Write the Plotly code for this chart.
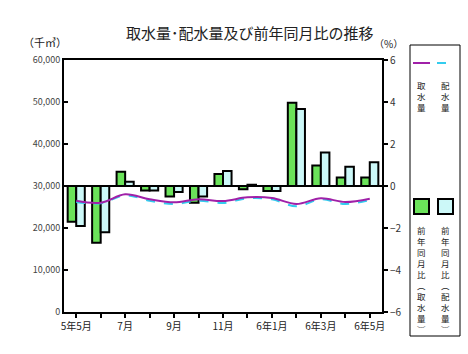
import plotly.graph_objects as go

months = ["5年5月", "6月", "7月", "8月", "9月", "10月", "11月", "12月", "6年1月", "2月", "3月", "4月", "6年5月"]
tick_labels = ["5年5月", "", "7月", "", "9月", "", "11月", "", "6年1月", "", "6年3月", "", "6年5月"]
intake = [26500, 26030, 28020, 26830, 26110, 26830, 26430, 27300, 27140, 25710, 27070, 26190, 26980]
distribution = [26190, 25870, 27780, 26500, 25710, 26500, 25950, 27070, 26830, 25160, 26830, 25710, 26670]
yoy_intake = [-1.7, -2.7, 0.68, -0.22, -0.5, -0.8, 0.57, -0.15, -0.24, 3.97, 0.98, 0.41, 0.41]
yoy_dist = [-1.9, -2.2, 0.2, -0.22, -0.29, -0.5, 0.71, 0.06, -0.24, 3.67, 1.6, 0.92, 1.13]

FONT = "Noto Sans CJK JP"
L, R, T, B = 64, 382, 60, 312
W, H = 468, 354

def px(x):
    return (x - L) / (R - L)

def py(y):
    return (B - y) / (B - T)

x_idx = list(range(len(months)))

fig = go.Figure()
fig.add_trace(go.Bar(x=x_idx, y=yoy_intake, yaxis="y", marker=dict(color="#6be35a", line=dict(color="black", width=2)), showlegend=False))
fig.add_trace(go.Bar(x=x_idx, y=yoy_dist, yaxis="y", marker=dict(color="#ccf8f8", line=dict(color="black", width=2)), showlegend=False))
fig.add_trace(go.Scatter(x=x_idx, y=distribution, yaxis="y2", mode="lines", line=dict(color="#33ccee", width=2, dash="dash", shape="spline"), showlegend=False))
fig.add_trace(go.Scatter(x=x_idx, y=intake, yaxis="y2", mode="lines", line=dict(color="#a020a8", width=2, shape="spline"), showlegend=False))

fig.update_layout(
    width=W, height=H,
    margin=dict(l=L, r=W - R, t=T, b=H - B),
    paper_bgcolor="white", plot_bgcolor="white",
    font=dict(family=FONT, size=10, color="#333"),
    barmode="group", bargap=0.3, bargroupgap=0,
    xaxis=dict(range=[-0.5, len(months) - 0.5], tickvals=x_idx, ticktext=tick_labels,
               showline=True, linecolor="black", linewidth=2, mirror=True,
               ticks="outside", ticklen=4, tickwidth=2, tickcolor="black",
               showgrid=False, zeroline=False, tickfont=dict(size=10, color="#222")),
    yaxis=dict(side="right", range=[-6, 6], dtick=2, showgrid=False,
               zeroline=True, zerolinecolor="black", zerolinewidth=2,
               showline=True, linecolor="black", linewidth=2,
               ticks="outside", ticklen=4, tickwidth=2, tickcolor="black",
               tickfont=dict(size=10, color="#333")),
    yaxis2=dict(side="left", overlaying="y", range=[0, 60000], dtick=10000, tickformat=",",
                showgrid=False, zeroline=False, showline=True, linecolor="black", linewidth=2,
                ticks="inside", ticklen=4, tickwidth=2, tickcolor="black",
                tickfont=dict(size=9, color="#444")),
)

anns = []

def label(text, x, y, size, color="#222", yanchor="middle"):
    anns.append(dict(text=text, x=px(x), y=py(y), xref="paper", yref="paper",
                     xanchor="center", yanchor=yanchor,
                     showarrow=False, font=dict(size=size, color=color, family=FONT)))

label("取水量･配水量及び前年同月比の推移", 250, 33, 15)
label("（千㎥）", 45, 42, 11)
label("（%）", 388, 43, 10)

shapes = []
# legend box
shapes.append(dict(type="rect", xref="paper", yref="paper", x0=px(410), x1=px(460), y0=py(336), y1=py(45),
                   line=dict(color="black", width=1), fillcolor="white", layer="below"))
shapes.append(dict(type="line", xref="paper", yref="paper", x0=px(413), x1=px(430), y0=py(63), y1=py(63),
                   line=dict(color="#a020a8", width=2)))
shapes.append(dict(type="line", xref="paper", yref="paper", x0=px(437), x1=px(455), y0=py(63), y1=py(63),
                   line=dict(color="#33ccee", width=2, dash="dash")))
shapes.append(dict(type="rect", xref="paper", yref="paper", x0=px(414), x1=px(429), y0=py(214), y1=py(199),
                   line=dict(color="black", width=2), fillcolor="#6be35a"))
shapes.append(dict(type="rect", xref="paper", yref="paper", x0=px(438), x1=px(453), y0=py(214), y1=py(199),
                   line=dict(color="black", width=2), fillcolor="#ccf8f8"))

def vtext(chars, xc, ytop):
    label("<br>".join(chars), xc, ytop, 8.5, yanchor="top")

vtext("取水量", 421, 77)
vtext("配水量", 445, 77)
vtext("前年同月比︵取水量︶", 421, 222)
vtext("前年同月比︵配水量︶", 445, 222)

fig.update_layout(annotations=anns, shapes=shapes)
fig.write_html("out.html")
